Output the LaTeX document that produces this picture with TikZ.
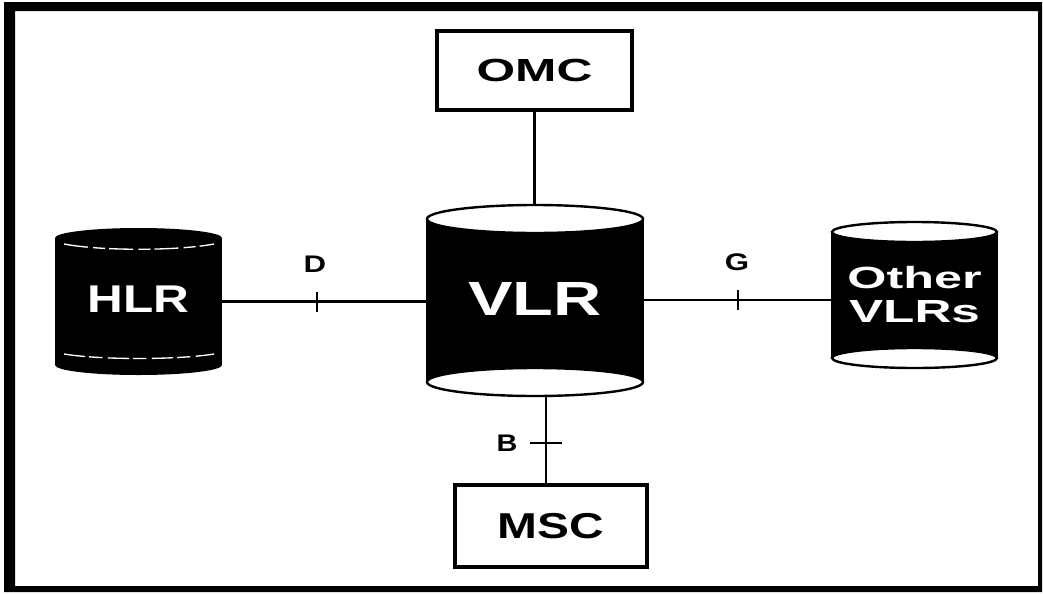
\documentclass[tikz,border=0pt]{standalone}
\usepackage{fontspec}
\setmainfont{Liberation Sans}
\usetikzlibrary{calc}
\begin{document}
\begin{tikzpicture}[x=0.75pt,y=-0.75pt,
  conn/.style={line width=1.6pt},
  boxnode/.style={draw, line width=3pt, fill=white, inner sep=0pt},
  lbl/.style={font=\fontsize{18}{20}\selectfont\bfseries, inner sep=0pt},
  cyltext/.style={text=white, inner sep=0pt, align=center, font=\bfseries},
  cylend/.style={fill=white, draw=black, line width=1.8pt}
]
\useasboundingbox (0,0) rectangle (1043,593);
\fill[white] (0,0) rectangle (1043,593);
% outer frame
\fill[black, even odd rule] (4,2) rectangle (1042,592) (15,11) rectangle (1038,586);

% HLR cylinder (all black)
\fill[black] (55,238) rectangle (222,365);
\fill[black] (138.5,238) ellipse [x radius=83.5, y radius=10];
\fill[black] (138.5,365) ellipse [x radius=83.5, y radius=10];
\draw[white, line width=1pt, dash pattern=on 18pt off 4pt on 9pt off 3pt] (64,244) .. controls (100,251) and (177,251) .. (214,244);
\draw[white, line width=1pt, dash pattern=on 16pt off 3pt on 10pt off 4pt] (64,354) .. controls (100,360) and (177,360) .. (214,354);

% VLR cylinder
\fill[black] (427,219) rectangle (643,382);
\draw[line width=1.8pt] (427,219) -- (427,382) (643,219) -- (643,382);
\draw[cylend] (535,219) ellipse [x radius=108, y radius=14];
\draw[cylend] (535,382) ellipse [x radius=108, y radius=14];

% Other VLRs cylinder
\fill[black] (832,232) rectangle (997,358);
\draw[line width=1.8pt] (832,232) -- (832,358) (997,232) -- (997,358);
\draw[cylend] (914.5,232) ellipse [x radius=82.5, y radius=10];
\draw[cylend] (914.5,358) ellipse [x radius=82.5, y radius=10];

% nodes
\node[boxnode, minimum width=146.25pt, minimum height=59.25pt] (omc) at (534.5,70.5)
  {\fontsize{24}{28}\selectfont\bfseries\scalebox{1.55}[1]{OMC}};
\node[boxnode, minimum width=144pt, minimum height=61.5pt] (msc) at (551,526)
  {\fontsize{27}{30}\selectfont\bfseries\raisebox{-3pt}{\scalebox{1.33}[1]{MSC}}};
\node[cyltext, minimum width=162pt, minimum height=142.5pt] (vlr) at (535,300)
  {\fontsize{36}{40}\selectfont\raisebox{2pt}{\scalebox{1.39}[1]{VLR}}};
\node[cyltext, minimum width=125.25pt, minimum height=110.25pt] (hlr) at (138.5,301.5)
  {\fontsize{29}{32}\selectfont\raisebox{3pt}{\scalebox{1.28}[1]{HLR}}};
\node[cyltext, font=\bfseries\fontsize{23}{25.5}\selectfont, minimum width=123.75pt, minimum height=108pt] (oth) at (914.5,295)
  {\scalebox{1.64}[1]{Other}\\\fontsize{24}{25.5}\selectfont\scalebox{1.6}[1]{VLRs}};

% connectors
\draw[conn] (omc.south) -- (omc.south |- vlr.north);
\draw[conn] (hlr.east) -- (hlr.east -| vlr.west);
\draw[conn] (vlr.east) -- (vlr.east -| oth.west);
\draw[conn] (msc.north) ++(-5,0) coordinate (mscin) -- (mscin |- vlr.south);

% interface ticks
\coordinate (dt) at (317,301.5);
\coordinate (gt) at (738,300);
\coordinate (bt) at (546,443);
\draw[conn] ($(dt)+(0,-10)$) -- ($(dt)+(0,10)$);
\draw[conn] ($(gt)+(0,-10)$) -- ($(gt)+(0,10)$);
\draw[conn] ($(bt)+(-16,0)$) -- ($(bt)+(16,0)$);

% labels
\node[lbl] (dl) at (315,264) {\scalebox{1.3}[1]{D}};
\node[lbl] (gl) at (737,262) {\scalebox{1.3}[1]{G}};
\node[lbl] (bl) at (507,443) {\scalebox{1.2}[1]{B}};
\end{tikzpicture}
\end{document}
